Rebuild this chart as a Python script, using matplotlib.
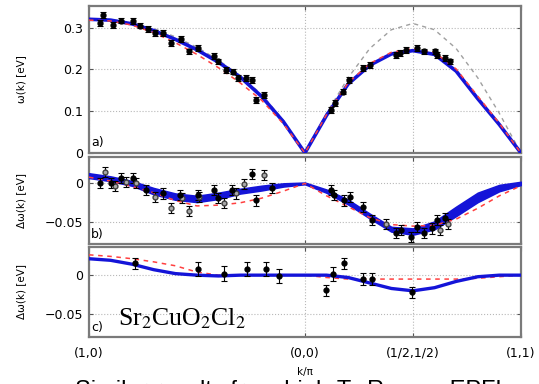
import numpy as np
from matplotlib import pyplot as plt

# k-path positions: (1,0) -> (0,0) -> (1/2,1/2) -> (1,1)
tick_pos = [0, 1, 1.5, 2]
tick_lab = ['(1,0)', '(0,0)', '(1/2,1/2)', '(1,1)']

# theory curves sampled every 0.1 along the path
k_line = [0.0, 0.1, 0.2, 0.3, 0.4, 0.5, 0.6, 0.7, 0.8, 0.9, 1.0,
          1.1, 1.2, 1.3, 1.4, 1.5, 1.6, 1.7, 1.8, 1.9, 2.0]

# panel a) dispersion
a_blue = [0.320, 0.318, 0.309, 0.293, 0.272, 0.247, 0.217, 0.182, 0.135, 0.075, 0.0,
          0.090, 0.165, 0.210, 0.237, 0.245, 0.236, 0.196, 0.130, 0.068, 0.0]
a_red = [0.318, 0.316, 0.306, 0.288, 0.264, 0.236, 0.204, 0.168, 0.126, 0.070, 0.0,
         0.092, 0.168, 0.214, 0.241, 0.250, 0.241, 0.201, 0.136, 0.071, 0.0]
a_gray = [0.321, 0.319, 0.312, 0.298, 0.278, 0.253, 0.222, 0.185, 0.140, 0.078, 0.0,
          0.095, 0.180, 0.250, 0.295, 0.310, 0.295, 0.250, 0.180, 0.095, 0.0]

a_x = [0.05, 0.066, 0.112, 0.15, 0.204, 0.235, 0.273, 0.304, 0.342, 0.381, 0.427, 0.462,
       0.504, 0.58, 0.596, 0.634, 0.665, 0.688, 0.726, 0.757, 0.772, 0.81,
       1.12, 1.14, 1.174, 1.206, 1.267, 1.30, 1.42, 1.44, 1.47, 1.517, 1.55, 1.60,
       1.61, 1.65, 1.67]
a_y = [0.311, 0.331, 0.307, 0.317, 0.316, 0.305, 0.297, 0.287, 0.287, 0.263, 0.273, 0.243,
       0.251, 0.233, 0.219, 0.199, 0.195, 0.179, 0.179, 0.175, 0.127, 0.139,
       0.103, 0.119, 0.147, 0.175, 0.203, 0.211, 0.235, 0.239, 0.247, 0.251, 0.243, 0.243,
       0.235, 0.227, 0.219]
a_err = 0.007

# panel b) deviation, band = blue center +- half width
b_blue = [0.010, 0.006, 0.0, -0.010, -0.017, -0.020, -0.016, -0.010, -0.006, -0.002, 0.0,
          -0.010, -0.024, -0.042, -0.059, -0.062, -0.054, -0.036, -0.018, -0.006, 0.0]
b_half = [0.003, 0.003, 0.003, 0.004, 0.004, 0.004, 0.004, 0.003, 0.003, 0.002, 0.001,
          0.002, 0.003, 0.003, 0.003, 0.004, 0.005, 0.006, 0.006, 0.004, 0.002]
b_red = [0.008, 0.003, -0.004, -0.012, -0.022, -0.029, -0.028, -0.025, -0.019, -0.010, 0.0,
         -0.016, -0.030, -0.044, -0.053, -0.055, -0.054, -0.046, -0.032, -0.016, -0.003]

b_x_fill = [0.05, 0.1, 0.15, 0.204, 0.265, 0.342, 0.42, 0.504, 0.58, 0.596, 0.664, 0.754,
            0.774, 0.846, 1.12, 1.135, 1.18, 1.21, 1.27, 1.31, 1.42, 1.445, 1.49, 1.52,
            1.55, 1.59, 1.61, 1.65]
b_y_fill = [0.0, 0.0, 0.007, 0.007, -0.009, -0.013, -0.015, -0.015, -0.009, -0.019, -0.009, 0.012,
            -0.022, -0.006, -0.009, -0.015, -0.022, -0.018, -0.030, -0.047, -0.064, -0.060, -0.069, -0.056,
            -0.064, -0.058, -0.047, -0.045]
b_x_open = [0.074, 0.12, 0.17, 0.22, 0.304, 0.38, 0.43, 0.465, 0.51, 0.627, 0.68, 0.719,
            0.81, 1.377, 1.626, 1.66]
b_y_open = [0.0145, -0.003, 0.002, 0.0, -0.017, -0.032, -0.019, -0.036, -0.017, -0.025, -0.013, -0.001,
            0.011, -0.052, -0.060, -0.052]
b_err = 0.0065

# panel c)
c_blue = [0.021, 0.019, 0.014, 0.007, 0.002, 0.0, -0.001, 0.0, 0.0, 0.0, 0.0,
          0.0, -0.003, -0.010, -0.017, -0.020, -0.016, -0.008, -0.002, 0.0, 0.0]
c_red = [0.026, 0.024, 0.021, 0.017, 0.012, 0.004, 0.0, 0.0, 0.0, 0.0, 0.0,
         -0.003, -0.005, -0.005, -0.005, -0.005, -0.005, -0.005, -0.004, -0.002, 0.0]
c_x = [0.212, 0.507, 0.627, 0.734, 0.819, 0.88, 1.096, 1.128, 1.18, 1.27, 1.31, 1.495]
c_y = [0.015, 0.008, 0.002, 0.008, 0.008, -0.001, -0.019, 0.001, 0.015, -0.005, -0.005, -0.022]
c_err = [0.007, 0.009, 0.010, 0.009, 0.009, 0.009, 0.007, 0.009, 0.007, 0.008, 0.008, 0.007]

fig = plt.figure(figsize=(5.39, 3.84), dpi=100)
left, width = 0.165, 0.8015
ax_a = fig.add_axes([left, 0.6016, width, 0.383])
ax_b = fig.add_axes([left, 0.3646, width, 0.2266])
ax_c = fig.add_axes([left, 0.1224, width, 0.2344])

blue = '#1414d8'
red = '#ff4040'

def style(ax, yticks, yticklabels, ylim, label, letter):
    ax.set_xlim(0, 2)
    ax.set_ylim(*ylim)
    ax.set_xticks(tick_pos)
    ax.set_xticklabels([])
    ax.set_yticks(yticks)
    ax.set_yticklabels(yticklabels)
    ax.grid(True, linestyle=':', color='#b8b8b8', linewidth=0.8)
    ax.tick_params(direction='in', length=3, width=0.8, color='#555555',
                   labelsize=9, top=True, right=True, pad=4)
    for s in ax.spines.values():
        s.set_color('#7a7a7a')
        s.set_linewidth(1.6)
    ax.set_ylabel(label, fontsize=7.5)
    ax.yaxis.set_label_coords(-0.145, 0.5)
    ax.text(0.005, 0.03, letter, transform=ax.transAxes, fontsize=9, ha='left', va='bottom')

ka = np.array(k_line)
err_kw = dict(fmt='o', color='black', ms=3.5, capsize=2, elinewidth=0.8, capthick=0.8, zorder=4)

# a)
ax_a.plot(ka, a_gray, color='#a0a0a0', ls=(0, (3, 3)), lw=1.0, zorder=2)
ax_a.plot(ka, a_blue, color=blue, lw=2.6, zorder=3)
ax_a.plot(ka, a_red, color=red, ls=(0, (3, 3)), lw=1.1, zorder=3)
ax_a.errorbar(a_x, a_y, yerr=a_err, **err_kw)
style(ax_a, [0, 0.1, 0.2, 0.3], ['0', '0.1', '0.2', '0.3'], (0, 0.352), 'ω(k) [eV]', 'a)')

# b)
bb = np.array(b_blue)
bh = np.array(b_half)
ax_b.fill_between(ka, bb - bh, bb + bh, color=blue, lw=1.2, edgecolor=blue, zorder=3)
ax_b.plot(ka, b_red, color=red, ls=(0, (3, 3)), lw=1.1, zorder=3)
ax_b.errorbar(b_x_open, b_y_open, yerr=b_err, mfc='#a8a8a8', mec='#404040', **err_kw)
ax_b.errorbar(b_x_fill, b_y_fill, yerr=b_err, **err_kw)
style(ax_b, [-0.05, 0], ['\u22120.05', '0'], (-0.078, 0.034), 'Δω(k) [eV]', 'b)')

# c)
ax_c.plot(ka, c_red, color=red, ls=(0, (3, 3)), lw=1.1, zorder=3)
ax_c.plot(ka, c_blue, color=blue, lw=2.4, zorder=3)
ax_c.errorbar(c_x, c_y, yerr=c_err, **err_kw)
style(ax_c, [-0.05, 0], ['\u22120.05', '0'], (-0.079, 0.036), 'Δω(k) [eV]', 'c)')
ax_c.set_xticklabels(tick_lab, fontsize=9)
ax_c.tick_params(axis='x', pad=7)
ax_c.set_xlabel('k/π', fontsize=7.5, labelpad=5)
ax_c.text(0.068, 0.07, r'Sr$_2$CuO$_2$Cl$_2$', transform=ax_c.transAxes,
          fontsize=18.5, family='Liberation Serif', math_fontfamily='stix',
          ha='left', va='bottom')

# caption line cut off at the bottom edge
fig.text(0.14, -0.035, 'Similar results from high-Tc Raman EPFL', fontsize=17,
         family='Liberation Sans', ha='left', va='baseline')

fig.savefig('out.png', dpi=100)
